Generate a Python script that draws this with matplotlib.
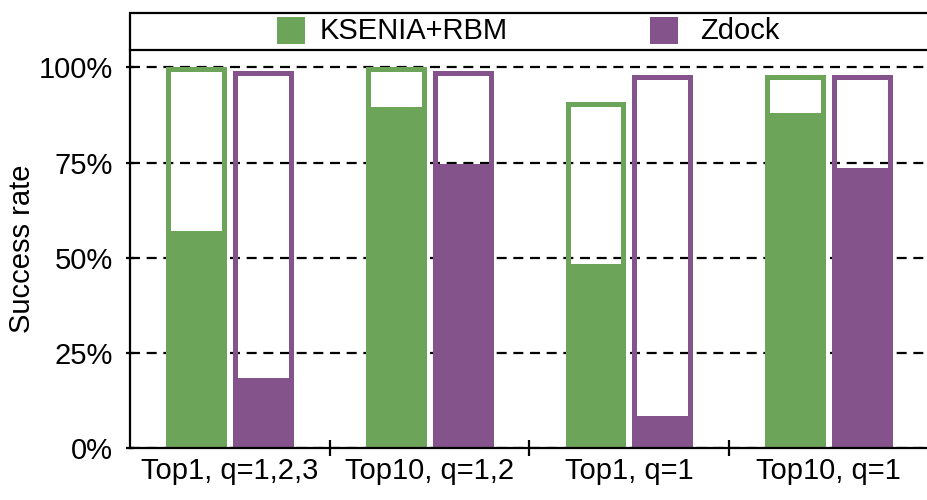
import matplotlib
matplotlib.use("Agg")
import matplotlib.pyplot as plt
from matplotlib.patches import Rectangle
import numpy as np

plt.rcParams['font.family'] = ['Liberation Sans', 'DejaVu Sans']

categories = ["Top1, q=1,2,3", "Top10, q=1,2", "Top1, q=1", "Top10, q=1"]
series_names = ["KSENIA+RBM", "Zdock"]
# outline (total) values and filled values, in percent
ksenia_total = [100, 100, 91, 98]
ksenia_fill = [57, 89.5, 48.5, 88]
zdock_total = [99, 99, 98, 98]
zdock_fill = [18.5, 74.5, 8.5, 73.5]
yticks = [0, 25, 50, 75, 100]
ytick_labels = ["0%", "25%", "50%", "75%", "100%"]

green = "#6ca45a"
purple = "#84538b"

W, H = 927, 500
fig = plt.figure(figsize=(W / 100, H / 100), dpi=100)
ax_left, ax_bottom, ax_top = 130, 448.3, 50
ax = fig.add_axes([ax_left / W, 1 - ax_bottom / H, (W - ax_left) / W + 0.01, (ax_bottom - ax_top) / H])

x = np.arange(len(categories))
width = 0.305
offsets = [-0.165, 0.17]

for vals_total, vals_fill, off, col in [
    (ksenia_total, ksenia_fill, offsets[0], green),
    (zdock_total, zdock_fill, offsets[1], purple),
]:
    ax.bar(x + off, vals_fill, width, color=col, linewidth=0, zorder=2)
    bars = ax.bar(x + off, vals_total, width, facecolor="none", edgecolor=col,
                  linewidth=7.2, zorder=3)
    for b in bars:
        b.set_clip_path(b)

ax.set_xlim(-0.5, 3.5 + 0.01 * 4)
ax.set_ylim(0, (ax_bottom - ax_top) / 3.81)
ax.set_yticks(yticks)
ax.set_yticklabels(ytick_labels)
ax.set_xticks(x)
ax.set_xticklabels(categories)
ax.set_xticks([0.5, 1.5, 2.5], minor=True)
ax.tick_params(axis='x', which='major', length=0, pad=6, labelsize=21)
ax.tick_params(axis='x', which='minor', length=12, width=1.6, direction='inout')
ax.tick_params(axis='y', length=6, width=1.6, direction='inout', pad=9, labelsize=21)

ax.yaxis.grid(True, color='black', linestyle=(0, (4.5, 3)), linewidth=1.6, zorder=1)
ax.set_axisbelow(True)

for s in ['top', 'right']:
    ax.spines[s].set_visible(False)
for s in ['left', 'bottom']:
    ax.spines[s].set_linewidth(1.6)
    ax.spines[s].set_zorder(4)

ax.set_ylabel("Success rate", fontsize=21)
ax.yaxis.set_label_coords(-0.117, 0.5)

# legend box
leg_top, leg_bot = 13, 50
fig.patches.append(Rectangle((ax_left / W, 1 - leg_bot / H), 1.0, (leg_bot - leg_top) / H,
                             transform=fig.transFigure, facecolor='white', edgecolor='black',
                             linewidth=1.6, figure=fig))
leg_items = [(277, 320, green, series_names[0]), (650, 700, purple, series_names[1])]
for sx, tx, col, name in leg_items:
    fig.patches.append(Rectangle((sx / W, 1 - 44 / H), 28 / W, 27 / H,
                                 transform=fig.transFigure, facecolor=col, edgecolor='none',
                                 figure=fig))
    fig.text(tx / W, 1 - 31 / H, name, fontsize=21, va='center', ha='left')

fig.savefig("out.png", dpi=100)
